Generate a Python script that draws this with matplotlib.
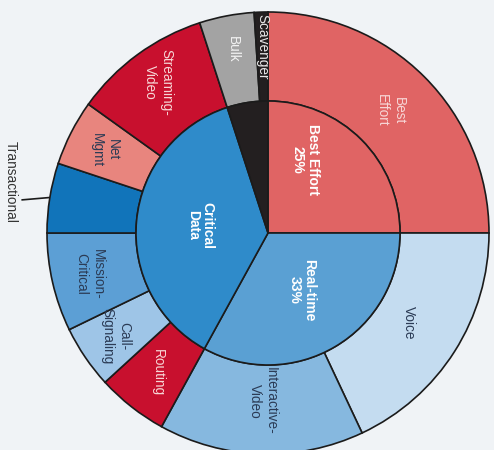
import numpy as np
import matplotlib
matplotlib.use("Agg")
import matplotlib.pyplot as plt

# inner ring: traffic classes (percent)
inner_labels = ["Best Effort\n25%", "Real-time\n33%", "Critical\nData", ""]
inner_values = [25, 33, 37, 5]
inner_colors = ["#e06464", "#5aa0d3", "#2f8bca", "#231f20"]

# outer ring: applications (percent)
outer_labels = ["Best\nEffort", "Voice", "Interactive-\nVideo", "Routing", "Call-\nSignaling",
                "Mission-\nCritical", "", "Net\nMgmt", "Streaming-\nVideo", "Bulk", "Scavenger"]
outer_values = [25, 18, 15, 5.2, 4.6, 7.2, 5.1, 4.8, 10.1, 4, 1]
outer_colors = ["#e06464", "#c4dcf0", "#86b8df", "#c8102e", "#9ec5e7", "#5c9fd5",
                "#1174ba", "#e8857e", "#c8102e", "#a3a3a3", "#231f20"]
outer_text = ["#f7d6d6", "#2b3b55", "#2b3b55", "#f7d6d6", "#2b3b55", "#2b3b55",
              "#2b3b55", "#2b3b55", "#f7d6d6", "#f2f2f2", "#e8e8e8"]

R_OUT = 221
R_IN = 132
bg = "#f0f3f6"
fam = ["Liberation Sans", "DejaVu Sans"]

fig = plt.figure(figsize=(4.94, 4.5), dpi=100, facecolor=bg)
ax = fig.add_axes([0, 0, 1, 1])
ax.set_facecolor(bg)
ax.axis("off")

edge = dict(edgecolor="#1b1b1b", linewidth=1.2)
w_out, _ = ax.pie(outer_values, radius=R_OUT, startangle=90, counterclock=False,
                  colors=outer_colors, wedgeprops=dict(width=R_OUT - R_IN, **edge))
w_in, _ = ax.pie(inner_values, radius=R_IN, startangle=90, counterclock=False,
                 colors=inner_colors, wedgeprops=edge)
ax.set_xlim(-268, 226)
ax.set_ylim(-217, 233)
ax.set_aspect("equal")

def polar(r, deg):
    t = np.deg2rad(deg)
    return r * np.cos(t), r * np.sin(t)

# outer labels
out_r = [173, 167, 168, 178, 184, 183, 183, 183, 186, 187, 186]
for w, lab, r, c in zip(w_out, outer_labels, out_r, outer_text):
    if not lab:
        continue
    mid = (w.theta1 + w.theta2) / 2
    x, y = polar(r, mid)
    ax.text(x, y, lab, rotation=-90, ha="center", va="center", color=c,
            fontsize=9.8, family=fam, multialignment="center", linespacing=1.2)

# transactional label sits outside with a leader line
wt = w_out[6]
mid = (wt.theta1 + wt.theta2) / 2
x0, y0 = polar(R_OUT + 1, mid)
x1, y1 = polar(248, mid + 1.5)
ax.plot([x0, x1], [y0, y1], color="#1b1b1b", lw=1.2)
x, y = polar(262, mid - 2)
ax.text(x, y, "Transactional", rotation=-90, ha="center", va="center",
        color="#333333", fontsize=9.8, family=fam)

# inner labels
in_r = [82, 66, 68]
in_shift = [18, 0, -1]
for w, lab, r, s in zip(w_in, inner_labels, in_r, in_shift):
    if not lab:
        continue
    mid = (w.theta1 + w.theta2) / 2 + s
    x, y = polar(r, mid)
    ax.text(x, y, lab, rotation=-90, ha="center", va="center", color="white",
            fontsize=10, fontweight="bold", family=fam,
            multialignment="center", linespacing=1.05)

fig.savefig("out.png", dpi=100, facecolor=bg)
